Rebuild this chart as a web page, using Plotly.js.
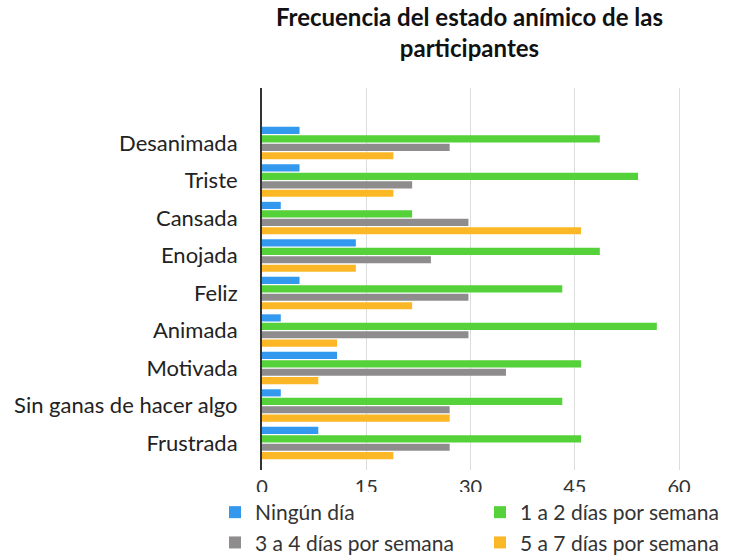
<!DOCTYPE html>
<html>
<head>
<meta charset="utf-8">
<script src="https://cdn.plot.ly/plotly-3.0.1.min.js"></script>
<style>html,body{margin:0;padding:0;background:#fff;}#chart{width:737px;height:556px;}</style>
</head>
<body>
<div id="chart"></div>
<script>
const categories = ["Desanimada","Triste","Cansada","Enojada","Feliz","Animada","Motivada","Sin ganas de hacer algo","Frustrada"];
const seriesNames = ["Ningún día","1 a 2 días por semana","3 a 4 días por semana","5 a 7 días por semana"];
const ningunDia   = [5.4, 5.4, 2.7, 13.5, 5.4, 2.7, 10.8, 2.7, 8.1];
const unoADos     = [48.6, 54.1, 21.6, 48.6, 43.2, 56.8, 45.9, 43.2, 45.9];
const tresACuatro = [27.0, 21.6, 29.7, 24.3, 29.7, 29.7, 35.1, 27.0, 27.0];
const cincoASiete = [18.9, 18.9, 45.9, 13.5, 21.6, 10.8, 8.1, 27.0, 18.9];
const xTicks = [0, 15, 30, 45, 60];

const colors = ["#3399EE", "#55D13A", "#8E8C8D", "#FBB726"];
const values = [ningunDia, unoADos, tresACuatro, cincoASiete];

const data = values.map((v, i) => ({
  type: "bar",
  orientation: "h",
  name: seriesNames[i],
  x: v,
  y: categories,
  marker: { color: colors[i] },
  hoverinfo: "x+name"
}));

const layout = {
  width: 737, height: 556,
  paper_bgcolor: "#fff", plot_bgcolor: "#fff",
  font: { family: "Lato, 'Open Sans', sans-serif", color: "#222" },
  margin: { l: 262, r: 51, t: 88, b: 86, autoexpand: false },
  title: {
    text: "<b>Frecuencia del estado anímico de las<br>participantes</b>",
    font: { family: "Lato, sans-serif", size: 24, color: "#111" },
    xref: "container", x: 0.637, xanchor: "center",
    yref: "container", y: 0.953, yanchor: "top"
  },
  barmode: "group",
  bargap: 0.1,
  bargroupgap: 0.15,
  xaxis: {
    range: [0, 61],
    tickvals: xTicks,
    ticktext: xTicks.map(String),
    showgrid: true, gridcolor: "#dcdcdc", gridwidth: 1,
    zeroline: false, showline: false,
    ticks: "",
    ticklabelstandoff: 3,
    tickfont: { size: 20, color: "#333" }
  },
  yaxis: {
    type: "category",
    range: [8.72, -1.47],
    showline: true, linecolor: "#333", linewidth: 2,
    showgrid: false, zeroline: false,
    ticks: "",
    ticklabelstandoff: 18,
    tickfont: { size: 22, color: "#222" }
  },
  showlegend: true,
  legend: {
    orientation: "h",
    xref: "paper", x: -47/424, xanchor: "left",
    yref: "paper", y: -22/382, yanchor: "top",
    entrywidth: 220, entrywidthmode: "pixels",
    traceorder: "normal",
    font: { size: 21, color: "#333" },
    tracegroupgap: 0
  }
};

Plotly.newPlot("chart", data, layout, { displayModeBar: false, staticPlot: true });
</script>
</body>
</html>
